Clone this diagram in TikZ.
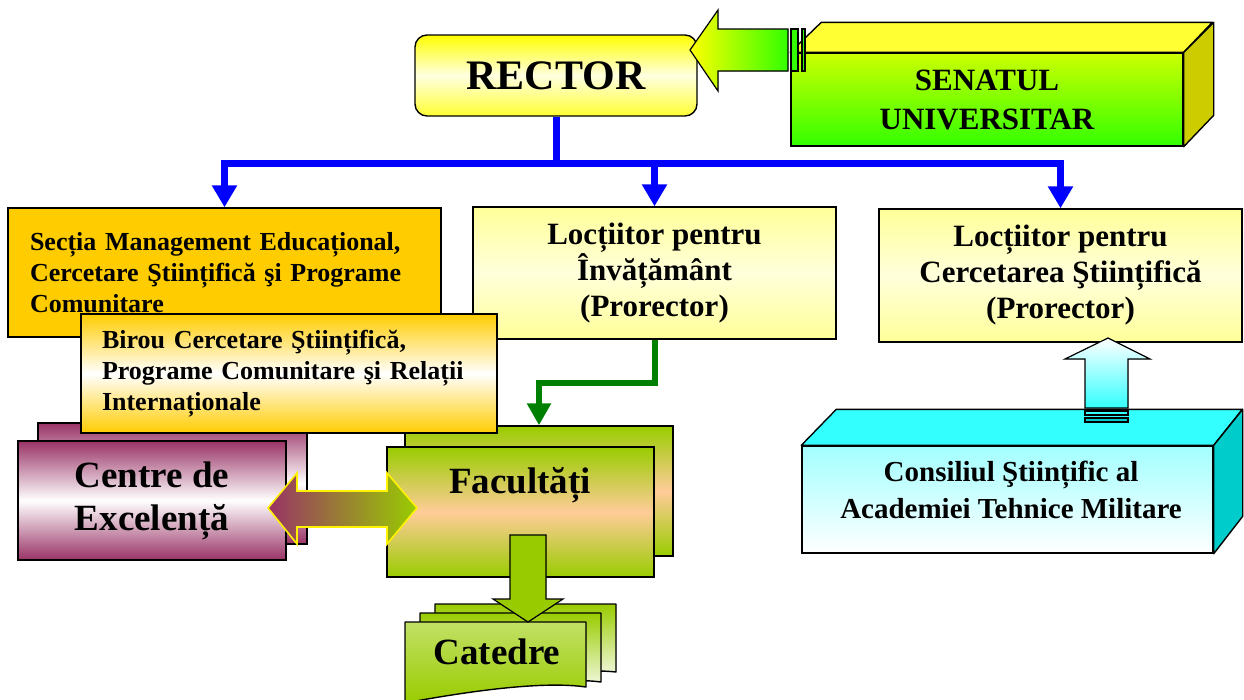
\documentclass[tikz,border=0pt]{standalone}
\usepackage{fontspec}
\setmainfont{Liberation Serif}
\usepackage{tikz}
\usetikzlibrary{arrows.meta, positioning, calc}
\definecolor{rectyel}{RGB}{255,255,0}
\definecolor{paleyel}{RGB}{255,255,153}
\definecolor{secgold}{RGB}{255,204,0}
\definecolor{sentop}{RGB}{255,255,51}
\definecolor{senside}{RGB}{204,204,0}
\definecolor{senlime}{RGB}{204,255,0}
\definecolor{sengreen}{RGB}{51,255,0}
\definecolor{plum}{RGB}{153,51,102}
\definecolor{facgreen}{RGB}{153,204,0}
\definecolor{peach}{RGB}{255,204,153}
\definecolor{cyantop}{RGB}{51,255,255}
\definecolor{cyanside}{RGB}{0,204,204}
\definecolor{linkblue}{RGB}{0,0,255}
\definecolor{linkgreen}{RGB}{0,128,0}

\begin{document}
\begin{tikzpicture}[x=1pt, y=-1pt,
    orgbox/.style={draw=black, line width=1.4pt, inner sep=0pt, font=\bfseries},
    face/.style={draw=black, line width=1.4pt, line join=round},
    blockarrow/.style={draw=black, line width=1.2pt, line join=miter},
    bluelink/.style={draw=linkblue, line width=7pt, -{Triangle[width=24pt,length=22pt]}},
    greenlink/.style={draw=linkgreen, line width=6pt, -{Triangle[width=23pt,length=22pt]}},
    fbig/.style={font=\bfseries\fontsize{42}{48}\selectfont},
    fmid/.style={font=\bfseries\fontsize{37}{43}\selectfont},
    fhead/.style={font=\bfseries\fontsize{31}{36}\selectfont},
    fsen/.style={font=\bfseries\fontsize{31}{39}\selectfont},
    fcons/.style={font=\bfseries\fontsize{29}{37}\selectfont},
    fsmall/.style={font=\bfseries\fontsize{26}{31}\selectfont}]
  \useasboundingbox (0,0) rectangle (1244,699);

  % Senatul (3D box)
  \node[orgbox, minimum width=392, minimum height=93, top color=senlime, bottom color=sengreen,
        fsen, align=center] (senat) at (987,99.5) {SENATUL\\UNIVERSITAR};
  \filldraw[face, fill=sentop] (senat.north west) -- ++(31,-30) -- ++(391,0) -- (senat.north east) -- cycle;
  \filldraw[face, fill=senside] (senat.north east) -- ++(30,-30) -- ++(0,93) -- (senat.south east) -- cycle;

  % Rector
  \node[orgbox, rounded corners=12pt, minimum width=282, minimum height=81,
        top color=rectyel, bottom color=rectyel!80, middle color=rectyel!12, fbig] (rector) at (556,75.5) {RECTOR};

  % Arrow from the senate
  \filldraw[blockarrow, left color=rectyel, right color=sengreen]
    (690,50) -- (718,10) -- (718,29) -- (788,29) -- (788,71) -- (718,71) -- (718,91) -- cycle;
  \filldraw[blockarrow, fill=sengreen] (791,29) rectangle (798,71);
  \filldraw[blockarrow, fill=sengreen] (802,29) rectangle (805,71);

  % Second level
  \node[orgbox, minimum width=433, minimum height=129, fill=secgold, fsmall,
        text width=389, align=left] (secmgmt) at (224.5,272.5)
        {Secția Management Educațional,\\Cercetare Ştiințifică şi Programe\\Comunitare};
  \node[orgbox, minimum width=363, minimum height=132, top color=paleyel, bottom color=paleyel,
        middle color=paleyel!35, fhead, align=center] (locinv) at (654.5,273)
        {Locțiitor pentru\\Învățământ\\(Prorector)};
  \node[orgbox, minimum width=363, minimum height=133, top color=paleyel, bottom color=paleyel,
        middle color=paleyel!35, fhead, align=center] (locstiint) at (1060.5,275.5)
        {Locțiitor pentru\\Cercetarea Ştiințifică\\(Prorector)};

  % Blue links
  \coordinate (hub) at (0,163);
  \draw[bluelink] (rector.south) -- (rector.south |- hub) -| (secmgmt.north);
  \draw[bluelink] (rector.south |- hub) -| (locinv.north);
  \draw[bluelink] (rector.south |- hub) -| (locstiint.north);

  % Centre de excelenta
  \node[orgbox, minimum width=269, minimum height=121, top color=plum, bottom color=plum,
        middle color=white] (centreback) at (172.5,483.5) {};
  \node[orgbox, minimum width=268, minimum height=119, top color=plum, bottom color=plum,
        middle color=white, fmid, align=center] (centre) at (152,500.5) {Centre de\\Excelență};

  % Facultati
  \node[orgbox, minimum width=268, minimum height=130, top color=facgreen, bottom color=facgreen,
        middle color=peach] (facback) at (539,491) {};
  \draw[greenlink] (locinv.south) -- ++(0,43) -| (facback.north);
  \node[orgbox, minimum width=267, minimum height=130, top color=facgreen, bottom color=facgreen,
        middle color=peach] (facfront) at (520.5,512) {};
  \node[fmid, anchor=base] (factxt) at (520,493) {Facultăți};

  % Catedre (stacked sheets)
  \filldraw[face, top color=facgreen, bottom color=white]
    (435,604) -- (616,604) -- (616,672) .. controls (580,668) and (520,676) .. (435,686) -- cycle;
  \filldraw[face, top color=facgreen, bottom color=white]
    (420,613) -- (601,613) -- (601,682) .. controls (565,677) and (500,686) .. (420,696) -- cycle;
  \filldraw[face, top color=facgreen!60, middle color=white, bottom color=facgreen]
    (405,622) -- (586,622) -- (586,687) .. controls (545,681) and (475,690) .. (405,703) -- cycle;
  \node[fmid, anchor=base] (catedre) at (497,664) {Catedre};

  % Arrow Facultati -> Catedre
  \filldraw[blockarrow, top color=facgreen, middle color=peach, bottom color=facgreen]
    (510,535) -- (546,535) -- (546,599) -- (563,599) -- (528,622) -- (493,599) -- (510,599) -- cycle;

  % Double arrow Centre <-> Facultati
  \filldraw[draw=yellow, line width=1.6pt, left color=plum, right color=facgreen]
    (268,508) -- (297,473) -- (297,491) -- (387,491) -- (387,473) -- (417,508)
    -- (387,544) -- (387,527) -- (297,527) -- (297,544) -- cycle;

  % Birou
  \node[orgbox, minimum width=416, minimum height=119, top color=secgold, bottom color=secgold,
        middle color=white, fsmall, text width=374, align=left] (birou) at (289,373.5)
        {Birou Cercetare Ştiințifică,\\Programe Comunitare şi Relații\\Internaționale};

  % Consiliul stiintific (3D box)
  \node[orgbox, minimum width=411, minimum height=107, top color=cyantop!45, bottom color=white] (consil) at (1007.5,499.5) {};
  \filldraw[face, fill=cyantop] (consil.north west) -- ++(35,-36) -- ++(406,0) -- (consil.north east) -- cycle;
  \filldraw[face, fill=cyanside] (consil.north east) -- ++(29,-36) -- ++(0,107) -- (consil.south east) -- cycle;
  \node[fcons, align=center] (constxt) at (1011,489.5) {Consiliul Ştiințific al\\Academiei Tehnice Militare};

  % Arrow Consiliul -> Locțiitor
  \filldraw[blockarrow, top color=white, bottom color=cyantop]
    (1108,338) -- (1150,359) -- (1128,359) -- (1128,408) -- (1085,408) -- (1085,359) -- (1065,359) -- cycle;
  \filldraw[blockarrow, fill=cyantop] (1085,411) rectangle (1128,415);
  \filldraw[blockarrow, fill=cyanside] (1085,418) rectangle (1128,422);
\end{tikzpicture}
\end{document}
